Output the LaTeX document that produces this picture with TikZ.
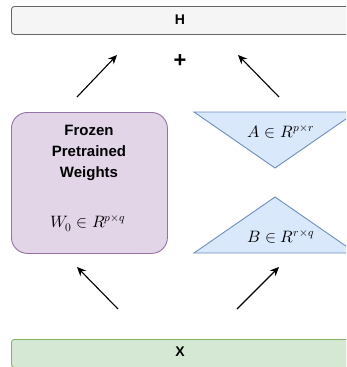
\documentclass[tikz,border=0pt]{standalone}
\usepackage{fontspec}
\setmainfont{Liberation Sans}
\usepackage{unicode-math}
\setmathfont{Latin Modern Math}
\usetikzlibrary{arrows.meta}
\definecolor{hfill}{HTML}{F5F5F5}
\definecolor{hdraw}{HTML}{666666}
\definecolor{pfill}{HTML}{E1D5E7}
\definecolor{pdraw}{HTML}{9673A6}
\definecolor{bfill}{HTML}{DAE8FC}
\definecolor{bdraw}{HTML}{6C8EBF}
\definecolor{gfill}{HTML}{D5E8D4}
\definecolor{gdraw}{HTML}{82B366}
\tikzset{
  bar/.style={draw=#1, line width=0.9pt, rounded corners=3pt, minimum height=28pt, minimum width=338pt, inner sep=0pt},
  bartext/.style={font=\fontsize{14}{16}\selectfont\bfseries, inner sep=0pt},
  conn/.style={line width=1.1pt, -{Stealth[length=9pt,width=8pt]}},
  tri/.style={draw=bdraw, fill=bfill, line width=0.9pt, line join=miter},
  mlabel/.style={inner sep=0pt, font=\fontsize{16.5}{18}\selectfont},
}
\begin{document}
\begin{tikzpicture}[x=1pt,y=-1pt]
\useasboundingbox (0,0) rectangle (346,367);
\clip (0,0) rectangle (346,367);
% H bar
\node[bar=hdraw, fill=hfill, anchor=north west] (H) at (11,6) {};
\node[bartext] (Ht) at (180,19.5) {H};
% X bar
\node[bar=gdraw, fill=gfill, anchor=north west] (X) at (11,339) {};
\node[bartext] (Xt) at (180,352) {X};
% plus
\node[font=\fontsize{22}{24}\selectfont\bfseries, inner sep=0pt] (plus) at (180,61) {+};
% Frozen box
\node[draw=pdraw, fill=pfill, line width=0.9pt, rounded corners=16pt, minimum width=156pt, minimum height=141pt, anchor=north west, inner sep=0pt] (W) at (11,112) {};
\node[align=center, font=\fontsize{15}{21}\selectfont\bfseries, inner sep=0pt] (Wt) at (89,153) {Frozen\\Pretrained\\Weights};
\node[mlabel] (Wm) at (88,224) {$W_0\in R^{p\times q}$};
% triangles
\coordinate (A1) at (194,112);
\coordinate (A2) at (356,112);
\coordinate (A3) at (275,168);
\draw[tri] (A1) -- (A2) -- (A3) -- cycle;
\node[mlabel] (At) at (281,132) {$A\in R^{p\times r}$};
\coordinate (B1) at (194,253);
\coordinate (B2) at (356,253);
\coordinate (B3) at (275,197);
\draw[tri] (B1) -- (B2) -- (B3) -- cycle;
\node[mlabel] (Bt) at (281,237) {$B\in R^{r\times q}$};
% arrows
\coordinate (t1s) at (77,97); \coordinate (t1e) at (117,55);
\coordinate (t2s) at (279,97); \coordinate (t2e) at (238,55);
\coordinate (b1s) at (118,309); \coordinate (b1e) at (77,267);
\coordinate (b2s) at (237,309); \coordinate (b2e) at (279,267);
\draw[conn] (t1s) -- (t1e);
\draw[conn] (t2s) -- (t2e);
\draw[conn] (b1s) -- (b1e);
\draw[conn] (b2s) -- (b2e);
\end{tikzpicture}
\end{document}
